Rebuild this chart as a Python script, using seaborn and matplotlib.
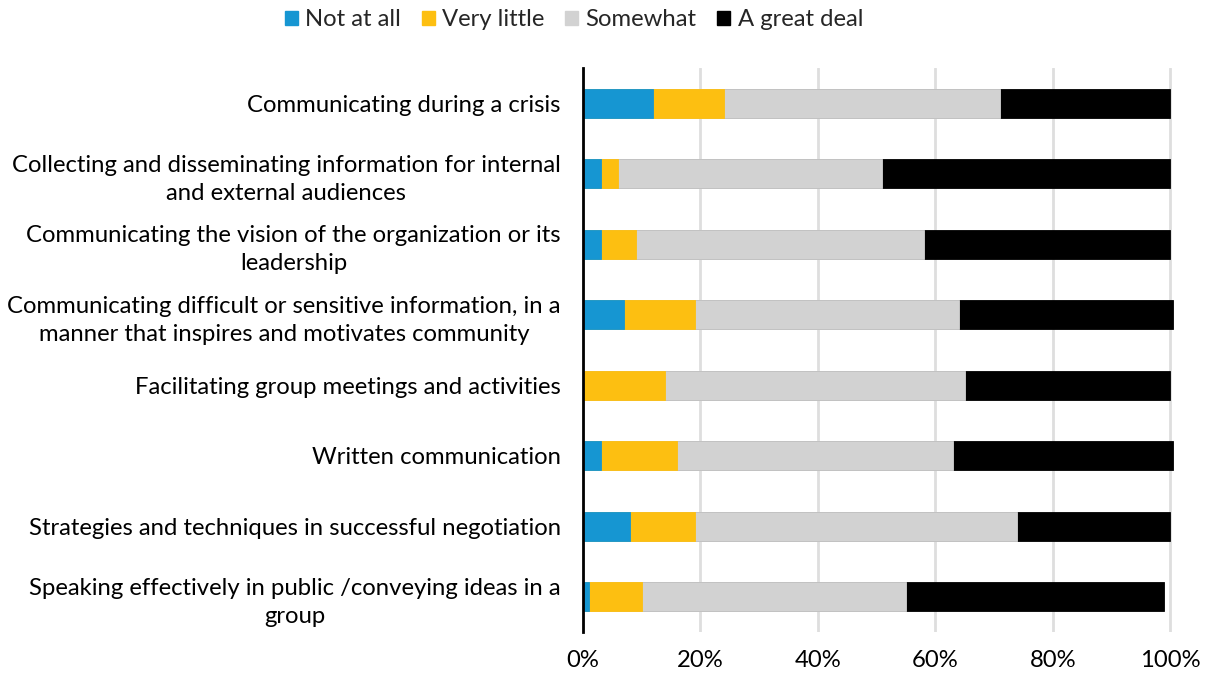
import numpy as np
import pandas as pd
import matplotlib
matplotlib.use("Agg")
import matplotlib.pyplot as plt
import seaborn as sns
from matplotlib.patches import Patch
from matplotlib.ticker import PercentFormatter, MultipleLocator

# Survey items (top to bottom) and the share of respondents per answer, in %
categories = [
    "Communicating during a crisis",
    "Collecting and disseminating information for internal\nand external audiences",
    "Communicating the vision of the organization or its\nleadership",
    "Communicating difficult or sensitive information, in a\nmanner that inspires and motivates community",
    "Facilitating group meetings and activities",
    "Written communication",
    "Strategies and techniques in successful negotiation",
    "Speaking effectively in public /conveying ideas in a\ngroup",
]
not_at_all   = [12, 3, 3, 7, 0, 3, 8, 1]
very_little  = [12, 3, 6, 12, 14, 13, 11, 9]
somewhat     = [47, 45, 49, 45, 51, 47, 55, 45]
a_great_deal = [29, 49, 42, 36.5, 35, 37.5, 26, 44]

series_names = ["Not at all", "Very little", "Somewhat", "A great deal"]
series_colors = ["#1696D2", "#FDBF11", "#D2D2D2", "#000000"]

sns.set_theme(style="white")
plt.rcParams["font.family"] = ["Lato", "DejaVu Sans"]

df = pd.DataFrame({
    "item": categories,
    "Not at all": not_at_all,
    "Very little": very_little,
    "Somewhat": somewhat,
    "A great deal": a_great_deal,
})
# cumulative right edges of each segment
cum = df[series_names].cumsum(axis=1)

FS = 17.2
fig = plt.figure(figsize=(12.12, 6.78), dpi=100)
ax = fig.add_axes([0.481, 0.0678, 0.4893, 0.832])

# draw the widest cumulative bar first so each shorter one sits on top
for name, color in reversed(list(zip(series_names, series_colors))):
    sns.barplot(x=cum[name] / 100.0, y=df["item"], orient="h", color=color,
                width=0.41, saturation=1, ax=ax, edgecolor=color, linewidth=0.6)

ax.set_xlim(0, 1.01)
ax.set_ylim(len(categories) - 0.5, -0.5)
ax.xaxis.set_major_locator(MultipleLocator(0.2))
ax.xaxis.set_major_formatter(PercentFormatter(1.0, decimals=0))
ax.set_xlabel("")
ax.set_ylabel("")

ax.grid(axis="x", color="#DEDEDE", linewidth=2)
ax.set_axisbelow(True)
for side in ["top", "right", "bottom"]:
    ax.spines[side].set_visible(False)
ax.spines["left"].set_color("black")
ax.spines["left"].set_linewidth(2)
ax.spines["left"].set_zorder(5)

ax.tick_params(axis="y", length=0, pad=16, labelsize=FS, labelcolor="black")
ax.tick_params(axis="x", length=0, pad=13, labelsize=FS, labelcolor="black")
for lbl in ax.get_yticklabels():
    lbl.set_multialignment("center")
    lbl.set_linespacing(1.4)

handles = [Patch(facecolor=c, edgecolor=c, label=n) for n, c in zip(series_names, series_colors)]
fig.legend(handles=handles, loc="upper center", bbox_to_anchor=(0.4736, 1.018), ncol=4,
           frameon=False, fontsize=FS, handlelength=0.55, handleheight=0.55,
           handletextpad=0.3, columnspacing=0.87)

fig.savefig("out.png", dpi=100, facecolor="white")
